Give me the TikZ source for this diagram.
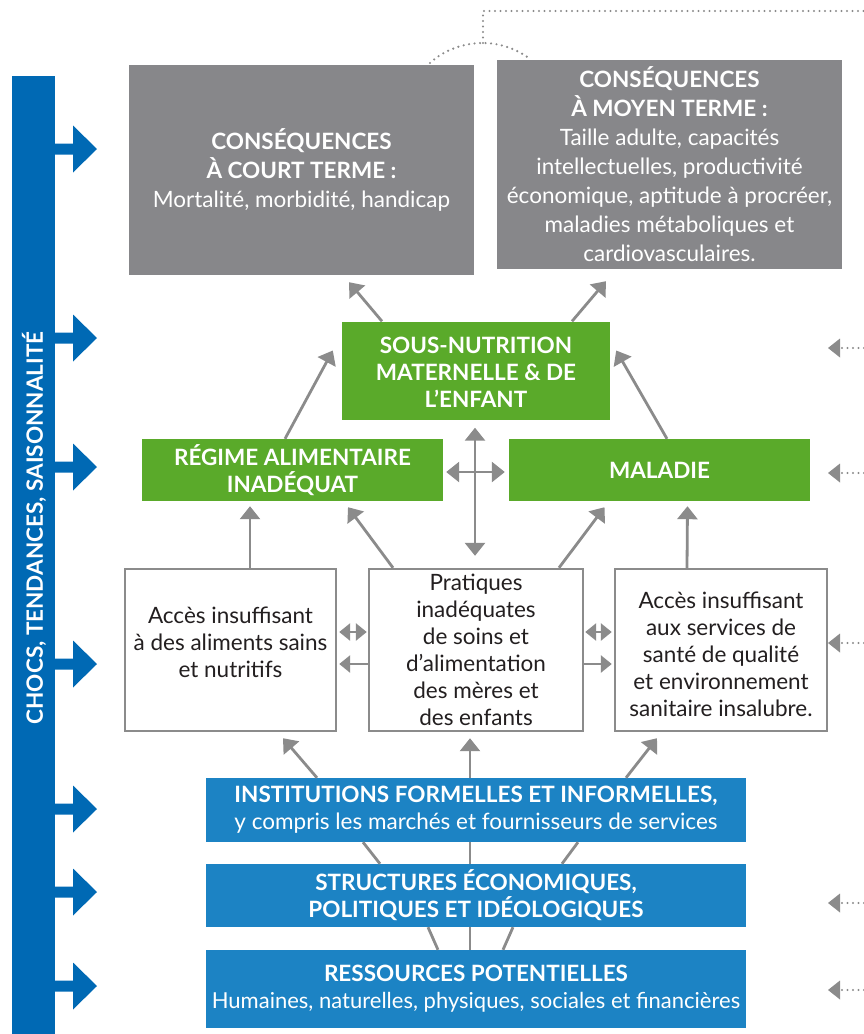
\documentclass[tikz,border=0pt]{standalone}
\usepackage{fontspec}
\setmainfont{Lato}
\usetikzlibrary{arrows.meta,calc}
\definecolor{boxgray}{RGB}{135,135,138}
\definecolor{leafgreen}{RGB}{90,170,42}
\definecolor{barblue}{RGB}{0,105,180}
\definecolor{boxblue}{RGB}{28,131,196}
\definecolor{linegray}{RGB}{139,139,139}
\definecolor{txt}{RGB}{35,31,32}
\tikzset{
 base/.style={inner sep=0pt, align=center, font=\fontsize{22.5}{27}\selectfont},
 graybox/.style={base, fill=boxgray, text=white, font=\fontsize{22.5}{29}\selectfont},
 greenbox/.style={base, fill=leafgreen, text=white, font=\bfseries\fontsize{22.5}{27}\selectfont},
 whitebox/.style={base, draw=linegray, line width=2.4pt, fill=white, text=txt},
 bluebox/.style={base, fill=boxblue, text=white},
 conn/.style={draw=linegray, line width=2.8pt, -{Triangle[width=20pt,length=13pt]}},
 dconn/.style={draw=linegray, line width=2.8pt, {Triangle[width=20pt,length=13pt]}-{Triangle[width=20pt,length=13pt]}},
 sconn/.style={draw=linegray, line width=2.8pt, -{Triangle[width=17pt,length=11pt]}},
 sdconn/.style={draw=linegray, line width=2.8pt, {Triangle[width=17pt,length=11pt]}-{Triangle[width=17pt,length=11pt]}},
 plainline/.style={draw=linegray, line width=2.8pt},
 dots/.style={draw=linegray, line width=2.4pt, line cap=round, dash pattern=on 0pt off 5.5pt},
 dotarrow/.style={dots, -{Triangle[width=19pt,length=12pt,line width=0pt]}},
}
\begin{document}
\begin{tikzpicture}[x=1pt,y=-1pt]
\useasboundingbox (0,0) rectangle (864,1034);
% left bar
\node[fill=barblue, minimum width=43pt, minimum height=958pt, inner sep=0pt] (bar) at (33.5,555) {};
\node[rotate=90, text=white, font=\bfseries\fontsize{22.5}{22.5}\selectfont, inner sep=0pt] (chocs) at (34,528) {CHOCS, TENDANCES, SAISONNALITÉ};
\foreach \yy in {149,338,467,664,809,892,986}{
  \fill[barblue] (54,\yy-5.5) -- (73,\yy-5.5) -- (73,\yy-23.5) -- (97,\yy) -- (73,\yy+23.5) -- (73,\yy+5.5) -- (54,\yy+5.5) -- cycle;
}
% right dotted arrows
\foreach \yy [count=\i] in {348,473,643,903,990}{
  \coordinate (rs\i) at (864,\yy);
  \coordinate (re\i) at (828,\yy);
  \draw[dotarrow] (rs\i) -- (re\i);
}
% nodes
\node[graybox, minimum width=345pt, minimum height=210pt] (short) at (301.5,170) {\textbf{CONSÉQUENCES}\\\textbf{À COURT TERME :}\\Mortalité, morbidité, handicap};
\node[graybox, minimum width=345pt, minimum height=209pt] (mid) at (669.5,164.5) {\textbf{CONSÉQUENCES}\\\textbf{À MOYEN TERME :}\\Taille adulte, capacités\\intellectuelles, productivité\\économique, aptitude à procréer,\\maladies métaboliques et\\cardiovasculaires.};
\node[greenbox, minimum width=268pt, minimum height=98pt] (sn) at (476,370.5) {};
\node[greenbox, fill=none] (sntxt) at (476,372.5) {SOUS-NUTRITION\\MATERNELLE \& DE\\L’ENFANT};
\node[greenbox, minimum width=301pt, minimum height=62pt] (reg) at (292.5,470) {RÉGIME ALIMENTAIRE\\INADÉQUAT};
\node[greenbox, minimum width=301pt, minimum height=62pt] (mal) at (659.5,470) {MALADIE};
\node[whitebox, minimum width=211pt, minimum height=162pt] (acc) at (230.5,650) {};
\node[base, text=txt] (acctxt) at (230.5,642) {Accès insuffisant\\à des aliments sains\\et nutritifs};
\node[whitebox, minimum width=214pt, minimum height=162pt] (pra) at (476,650) {Pratiques\\inadéquates\\de soins et\\d’alimentation\\des mères et\\des enfants};
\node[whitebox, minimum width=212pt, minimum height=162pt] (hea) at (721,650) {};
\node[base, text=txt] (heatxt) at (721,654) {Accès insuffisant\\aux services de\\santé de qualité\\et environnement\\sanitaire insalubre.};
\node[bluebox, minimum width=540pt, minimum height=64pt] (inst) at (476,810) {\textbf{INSTITUTIONS FORMELLES ET INFORMELLES,}\\y compris les marchés et fournisseurs de services};
\node[bluebox, minimum width=540pt, minimum height=63pt] (str) at (476,895.5) {\textbf{STRUCTURES ÉCONOMIQUES,}\\\textbf{POLITIQUES ET IDÉOLOGIQUES}};
\node[bluebox, minimum width=540pt, minimum height=78pt] (res) at (476,989) {\textbf{RESSOURCES POTENTIELLES}\\{\fontsize{22}{27}\selectfont Humaines, naturelles, physiques, sociales et financières}};
% top dotted connector
\coordinate (arcL) at (430,63);
\coordinate (arcT) at (483,43);
\coordinate (arcR) at (530,59);
\coordinate (topR) at (864,11);
\draw[dots] (arcL) .. controls (445,49) and (465,43) .. (arcT) .. controls (500,43) and (517,49) .. (arcR);
\draw[dots] (arcT) |- (topR);
% arrows
\draw[conn] ($(sn.north)+(-94,0)$) -- ($(short.south)+(47.5,7)$);
\draw[conn] ($(sn.north)+(96,0)$) -- ($(mid.south)+(-63.5,12)$);
\draw[conn] ($(reg.north)+(-7.5,0)$) -- ($(sn.west)+(-9,-20)$);
\draw[conn] ($(mal.north)+(7.5,0)$) -- ($(sn.east)+(6,-20)$);
\draw[conn] ($(acc.north)+(19.5,0)$) -- ($(reg.south)+(-42.5,5)$);
\draw[conn] ($(pra.north)+(-83,0)$) -- ($(reg.south)+(55.5,6)$);
\draw[conn] ($(pra.north)+(83,0)$) -- ($(mal.south)+(-55,6)$);
\draw[conn] ($(hea.north)+(-34,0)$) -- ($(mal.south)+(28,5)$);
\draw[dconn] ($(sn.south)+(-1,8)$) -- ($(pra.north)+(-1,-12)$);
\draw[dconn] ($(reg.east)+(3,2)$) -- ($(mal.west)+(-4,2)$);
\draw[sdconn] ($(acc.east)+(2,-18)$) -- ($(pra.west)+(-1,-18)$);
\draw[sconn] ($(pra.west)+(0,14)$) -- ($(acc.east)+(2,14)$);
\draw[sdconn] ($(pra.east)+(1,-18)$) -- ($(hea.west)+(-2,-18)$);
\draw[sconn] ($(pra.east)+(0,14)$) -- ($(hea.west)+(-2,14)$);
\draw[conn] ($(inst.north)+(-159,0)$) -- ($(acc.south)+(52.5,6)$);
\draw[conn] ($(inst.north)+(-6,0)$) -- ($(pra.south)+(-6,6)$);
\draw[conn] ($(inst.north)+(150,0)$) -- ($(hea.south)+(-64,6)$);
\draw[plainline] ($(inst.south)+(-113,0)$) -- ($(str.north)+(-96,0)$);
\draw[plainline] ($(inst.south)+(-6,0)$) -- ($(str.north)+(-6,0)$);
\draw[plainline] ($(inst.south)+(102,0)$) -- ($(str.north)+(86,0)$);
\draw[plainline] ($(str.south)+(-48,0)$) -- ($(res.north)+(-38,0)$);
\draw[plainline] ($(str.south)+(-6,0)$) -- ($(res.north)+(-6,0)$);
\draw[plainline] ($(str.south)+(37,0)$) -- ($(res.north)+(27,0)$);
\end{tikzpicture}
\end{document}
